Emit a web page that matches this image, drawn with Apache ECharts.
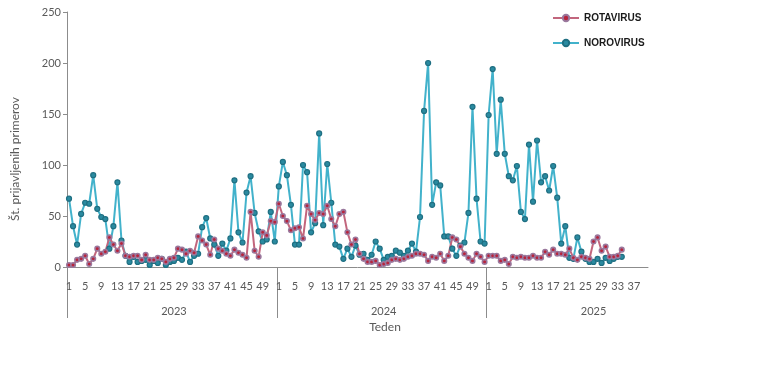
<!DOCTYPE html>
<html><head><meta charset="utf-8">
<script src="https://cdn.jsdelivr.net/npm/echarts@6/dist/echarts.min.js"></script>
<style>html,body{margin:0;padding:0;background:#fff}#c{width:777px;height:388px}</style>
</head><body><div id="c"></div>
<script>
// ---- data ----
const years = ['2023', '2024', '2025'];
const weeksPerYear = [52, 52, 40];
const seriesNames = ['ROTAVIRUS', 'NOROVIRUS'];
const yAxisTitle = 'Št. prijavljenih primerov';
const xAxisTitle = 'Teden';
const yMin = 0, yMax = 250, yStep = 50;

const rota2023 = [2, 2, 7, 8, 11, 3, 8, 18, 13, 15, 29, 22, 16, 23, 11, 10, 11, 11, 7, 12, 7, 7, 9, 8, 5, 8, 9, 18, 17, 13, 16, 14, 30, 26, 22, 12, 27, 18, 16, 13, 11, 17, 14, 12, 9, 54, 16, 10, 34, 31, 45, 44];
const rota2024 = [62, 50, 45, 36, 38, 39, 28, 60, 52, 46, 53, 52, 60, 47, 40, 52, 54, 34, 22, 27, 13, 8, 5, 5, 6, 2, 3, 4, 7, 8, 7, 8, 10, 11, 13, 13, 12, 6, 10, 9, 13, 6, 11, 29, 27, 20, 13, 9, 6, 13, 10, 5];
const rota2025 = [11, 11, 11, 6, 7, 3, 10, 9, 10, 9, 9, 11, 9, 9, 15, 12, 17, 13, 13, 12, 18, 9, 7, 10, 9, 8, 25, 29, 16, 20, 10, 10, 11, 17];

const noro2023 = [67, 40, 22, 52, 63, 62, 90, 57, 49, 47, 18, 40, 83, 26, 11, 5, 10, 5, 6, 7, 2, 6, 4, 8, 2, 5, 6, 9, 7, 15, 5, 11, 13, 39, 48, 28, 22, 11, 23, 16, 28, 85, 34, 24, 73, 89, 53, 35, 25, 27, 54, 25];
const noro2024 = [79, 103, 90, 61, 22, 22, 100, 93, 34, 43, 131, 41, 101, 63, 22, 20, 8, 18, 10, 21, 12, 13, 7, 12, 25, 18, 7, 10, 11, 16, 14, 11, 16, 23, 15, 49, 153, 200, 61, 83, 80, 30, 30, 18, 11, 21, 24, 53, 157, 67, 25, 23];
const noro2025 = [149, 194, 111, 164, 111, 89, 85, 99, 54, 47, 120, 64, 124, 83, 89, 75, 99, 68, 23, 40, 9, 8, 29, 15, 8, 5, 5, 8, 4, 9, 6, 8, 10, 10];

// ---- build ----
const cats = [];
const yearStart = [];
const yearMid = [];
years.forEach((y, k) => {
  yearStart.push(cats.length);
  yearMid.push(cats.length + 26);
  for (let w = 1; w <= weeksPerYear[k]; w++) cats.push(y + '-' + w);
});
const rota = rota2023.concat(rota2024, rota2025);
const noro = noro2023.concat(noro2024, noro2025);

const FONT = 'Lato';
const AX = '#8c8c8c';
const TXT = '#595959';

const chart = echarts.init(document.getElementById('c'), null, {renderer: 'canvas'});
chart.setOption({
  animation: false,
  backgroundColor: '#fff',
  textStyle: {fontFamily: FONT},
  grid: [
    {left: 67, right: 129, top: 12, bottom: 121, containLabel: false},
    {left: 67, right: 129, top: 267, height: 51, containLabel: false}
  ],
  legend: {
    orient: 'vertical', left: 547, top: 8,
    itemWidth: 26, itemHeight: 8, itemGap: 15,
    data: seriesNames,
    textStyle: {fontFamily: 'Liberation Sans', fontWeight: 'bold', fontSize: 10, color: '#1a1a1a'}
  },
  xAxis: [
    {
      type: 'category', gridIndex: 0, data: cats, boundaryGap: true,
      axisLine: {lineStyle: {color: AX, width: 1}},
      axisTick: {show: false},
      axisLabel: {interval: 3, margin: 14, fontSize: 11, color: TXT, fontFamily: FONT,
        formatter: v => v.split('-')[1]}
    },
    {
      type: 'category', gridIndex: 1, data: cats, boundaryGap: true, position: 'bottom',
      axisLine: {show: false},
      axisTick: {show: false},
      axisLabel: {inside: true, margin: 1, fontSize: 11, color: TXT, fontFamily: FONT,
        interval: (i) => yearMid.indexOf(i) >= 0,
        formatter: v => v.split('-')[0]},
      splitLine: {show: true, showMinLine: true, showMaxLine: false,
        interval: (i) => yearStart.indexOf(i) >= 0,
        lineStyle: {color: AX, width: 1}}
    }
  ],
  yAxis: [
    {
      type: 'value', gridIndex: 0, min: yMin, max: yMax, interval: yStep,
      axisLine: {show: true, lineStyle: {color: AX}},
      axisTick: {show: true, length: 4, lineStyle: {color: AX}},
      splitLine: {show: false},
      axisLabel: {fontSize: 11, color: TXT, margin: 6, fontFamily: FONT}
    },
    {type: 'value', gridIndex: 1, show: false}
  ],
  graphic: [
    {type: 'text', x: 15, y: 159, rotation: Math.PI / 2,
      style: {text: yAxisTitle, align: 'center', verticalAlign: 'middle', fontSize: 12, fill: TXT, fontFamily: FONT}},
    {type: 'text', x: 385, y: 327,
      style: {text: xAxisTitle, align: 'center', verticalAlign: 'middle', fontSize: 12, fill: TXT, fontFamily: FONT}}
  ],
  series: [
    {
      name: seriesNames[1], type: 'line', data: noro, xAxisIndex: 0, yAxisIndex: 0,
      symbol: 'circle', symbolSize: 5, showAllSymbol: true,
      lineStyle: {color: '#42b2cb', width: 2},
      itemStyle: {color: '#2a8aa0', borderColor: '#1f6f82', borderWidth: 1.2}
    },
    {
      name: seriesNames[0], type: 'line', data: rota, xAxisIndex: 0, yAxisIndex: 0,
      symbol: 'circle', symbolSize: 4.5, showAllSymbol: true,
      lineStyle: {color: '#c2667d', width: 2},
      itemStyle: {color: '#b8243c', borderColor: '#9a789d', borderWidth: 1.6}
    }
  ]
});
</script>
</body></html>
